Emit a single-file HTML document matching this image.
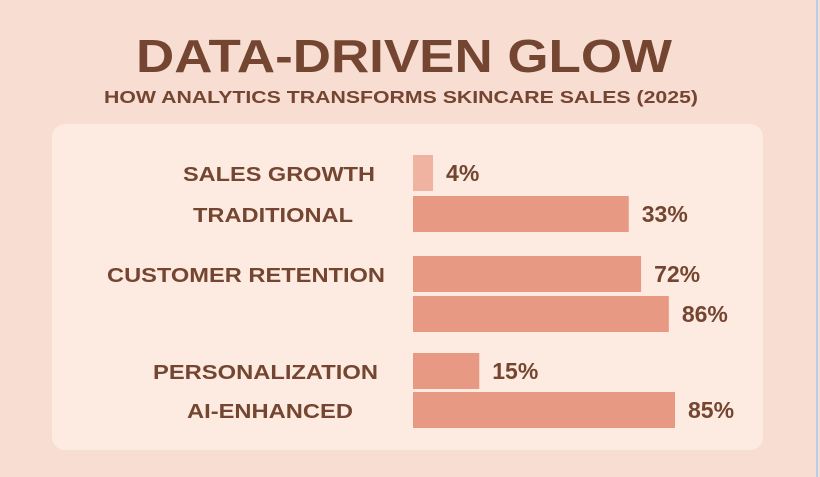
<!DOCTYPE html>
<html><head><meta charset="utf-8"><style>
html,body{margin:0;padding:0;background:#f8ddd2;}
svg{display:block;font-family:"Liberation Sans",sans-serif;}
</style></head><body>
<svg id="chart" width="820" height="477" viewBox="0 0 820 477">
<rect x="0" y="0" width="820" height="477" fill="#f8ddd2"/>
<rect x="816" y="0" width="2" height="477" fill="#b9cde6"/>
<text x="404" y="72" text-anchor="middle" font-size="46" font-weight="bold" fill="#744531" textLength="536" lengthAdjust="spacingAndGlyphs">DATA-DRIVEN GLOW</text>
<text x="401" y="103" text-anchor="middle" font-size="17.5" font-weight="bold" fill="#744531" textLength="594" lengthAdjust="spacingAndGlyphs">HOW ANALYTICS TRANSFORMS SKINCARE SALES (2025)</text>
<rect x="52" y="124" width="711" height="326" rx="13" fill="#fdebe1"/>
<g id="bars"></g>
</svg>
<script>
// Printed values
const valueLabels = ["4%", "33%", "72%", "86%", "15%", "85%"];
// Apparent bar lengths as drawn in the picture (0-100 scale)
const barValues = [6.5, 70, 74, 83, 21.5, 85];
const categories = ["SALES GROWTH", "TRADITIONAL", "CUSTOMER RETENTION", "", "PERSONALIZATION", "AI-ENHANCED"];

const svg = document.getElementById('bars');
const NS = 'http://www.w3.org/2000/svg';
const x0 = 413, pxPerUnit = 262 / 85;
const xScale = v => x0 + v * pxPerUnit;
const rowTops = [155, 196, 256, 296, 353, 392];
const barH = 36;
const labelAnchors = [375, 353, 385, 385, 378, 353];
const labelLens = [192, 160, 278, 0, 225, 166];

barValues.forEach((v, i) => {
  const r = document.createElementNS(NS, 'rect');
  
  
  r.setAttribute('x', x0);
  r.setAttribute('y', rowTops[i]);
  r.setAttribute('width', xScale(v) - x0);
  r.setAttribute('height', barH);
  r.setAttribute('fill', i === 0 ? '#f0b3a2' : '#e89984');
  svg.appendChild(r);

  const t = document.createElementNS(NS, 'text');
  
  
  t.setAttribute('x', xScale(v) + 13);
  t.setAttribute('y', rowTops[i] + barH / 2 + 8);
  t.setAttribute('font-size', '23');
  t.setAttribute('font-weight', 'bold');
  t.setAttribute('fill', '#744531');
  t.textContent = valueLabels[i];
  svg.appendChild(t);

  if (categories[i]) {
    const c = document.createElementNS(NS, 'text');
    
    
    c.setAttribute('x', labelAnchors[i]);
    c.setAttribute('y', rowTops[i] + barH / 2 + 8);
    c.setAttribute('text-anchor', 'end');
    c.setAttribute('font-size', '20');
    c.setAttribute('font-weight', 'bold');
    c.setAttribute('fill', '#744531');
    c.setAttribute('textLength', labelLens[i]);
    c.setAttribute('lengthAdjust', 'spacingAndGlyphs');
    c.textContent = categories[i];
    svg.appendChild(c);
  }
});
</script>
</body></html>
